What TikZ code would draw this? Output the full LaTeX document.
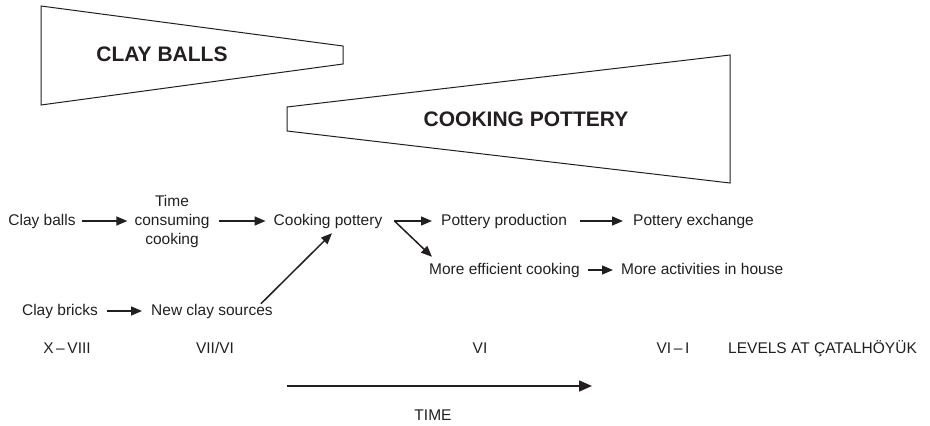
\documentclass[tikz,border=0pt]{standalone}
\usepackage{fontspec}
\setmainfont{Liberation Sans}
\usetikzlibrary{arrows.meta}
\definecolor{ink}{RGB}{35,31,32}

\begin{document}
\begin{tikzpicture}[x=1pt, y=-1pt,
		every node/.style={text=ink, inner sep=0pt, font=\fontsize{15.5}{19}\selectfont},
		lbl/.style={text height=11pt, text depth=3pt},
		banner/.style={draw=ink, line width=1pt},
		bannertxt/.style={font=\fontsize{21}{25}\selectfont\bfseries},
		flow/.style={draw=ink, line width=1.5pt, -{Triangle[length=11pt,width=9pt]}, shorten <=6pt, shorten >=7pt}]
				\useasboundingbox (0,0) rectangle (930,426);
				\draw[banner] (41,6) -- (343,46) -- (343,64) -- (41,105) -- cycle;
				\draw[banner] (287,107) -- (730,55) -- (730,183) -- (287,131) -- cycle;
				\node[bannertxt] (clayballs) at (162,54) {CLAY BALLS};
				\node[bannertxt] (cookpottery) at (526,119) {COOKING POTTERY};
				\node[lbl] (balls) at (42,221) {Clay balls};
				\node[align=center] (timecons) at (172,221) {Time\\consuming\\cooking};
				\node[lbl] (cookpot) at (328,221) {Cooking pottery};
				\node[lbl, anchor=west] (prod) at (441,221) {Pottery production};
				\node[lbl, anchor=west] (exch) at (633,221) {Pottery exchange};
				\node[lbl, anchor=west] (eff) at (429,270) {More efficient cooking};
				\node[lbl, anchor=west] (acts) at (621,270) {More activities in house};
				\node[lbl] (bricks) at (60,311) {Clay bricks};
				\node[lbl, anchor=west] (sources) at (151,311) {New clay sources};
				\coordinate (fork) at ([xshift=12pt]cookpot.east);
				\draw[flow] (balls) -- (timecons);
				\draw[flow, shorten <=9pt, shorten >=8pt] (timecons) -- (cookpot);
				\draw[flow, shorten <=0pt, shorten >=9pt] (fork) -- (prod);
				\draw[flow, shorten <=0pt, shorten >=0pt] (fork) -- ([shift={(3,-6)}]eff.north west);
				\draw[flow, shorten <=13pt, shorten >=10pt] (prod) -- (exch);
				\draw[flow, shorten <=8pt, shorten >=8pt] (eff) -- (acts);
				\draw[flow, shorten <=9pt, shorten >=9pt] (bricks) -- (sources);
				\draw[flow, shorten <=0pt, shorten >=0pt] ([xshift=-12pt]sources.north east) -- ([shift={(4,5)}]cookpot.south);
				\node[lbl] (levA) at (67,349) {X\,--\,VIII};
				\node[lbl] (levB) at (215,349) {VII/VI};
				\node[lbl] (levC) at (480,349) {VI};
				\node[lbl] (levD) at (673,349) {VI\,--\,I};
				\node[lbl, anchor=west] (levels) at (728,349) {LEVELS AT ÇATALHÖYÜK};
				\coordinate (tstart) at (287,386);
				\coordinate (tend) at (592,386);
				\draw[flow, shorten <=0pt, shorten >=0pt, -{Triangle[length=13pt,width=11pt]}] (tstart) -- (tend);
				\node[lbl] (time) at (433,416) {TIME};
			\end{tikzpicture}
\end{document}
